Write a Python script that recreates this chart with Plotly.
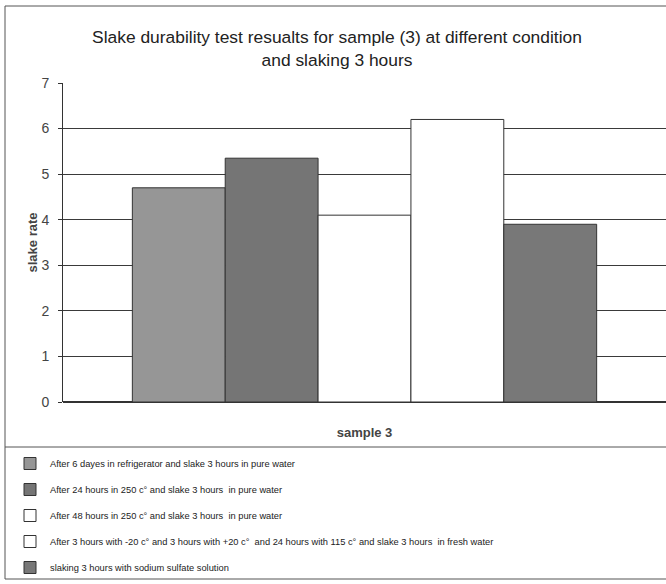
import plotly.graph_objects as go

categories = ["sample 3"]
series_names = [
    "After 6 dayes in refrigerator and slake 3 hours in pure water",
    "After 24 hours in 250 c° and slake 3 hours  in pure water",
    "After 48 hours in 250 c° and slake 3 hours  in pure water",
    "After 3 hours with -20 c° and 3 hours with +20 c°  and 24 hours with 115 c° and slake 3 hours  in fresh water",
    "slaking 3 hours with sodium sulfate solution",
]
slake_rate = [4.7, 5.35, 4.1, 6.2, 3.9]

bar_colors = ["#969696", "#757575", "#ffffff", "#ffffff", "#787878"]
FONT = "Liberation Sans, Arial"
W, H = 666, 584
L, R, T, B = 63, 0, 83, 182

fig = go.Figure()
for i, (name, val) in enumerate(zip(series_names, slake_rate)):
    fig.add_trace(go.Bar(
        x=categories, y=[val], name=name, legendgroup=f"g{i}",
        marker=dict(color=bar_colors[i], line=dict(color="#333333", width=1)),
    ))

def px_x(p):
    return (p - L) / (W - L - R)

def px_y(p):
    return (H - B - p) / (H - T - B)

fig.update_layout(
    width=W, height=H,
    margin=dict(l=L, r=R, t=T, b=B),
    paper_bgcolor="white", plot_bgcolor="white",
    barmode="group", bargap=0.23, bargroupgap=0,
    title=dict(text="Slake durability test resualts for sample (3) at different condition<br>and slaking 3 hours",
               x=337 / W, xanchor="center", y=1 - 43 / H, yanchor="top",
               font=dict(family=FONT, size=17.4, color="#222222")),
    font=dict(family=FONT, color="#333333"),
    showlegend=True,
    legend=dict(x=px_x(10), xanchor="left", y=px_y(449), yanchor="top",
                font=dict(family=FONT, size=9.3, color="#222222"),
                tracegroupgap=7, itemwidth=30, bgcolor="rgba(0,0,0,0)"),
    xaxis=dict(showticklabels=False, showline=False, ticks="",
               title=dict(text="<b>sample 3</b>", standoff=25,
                          font=dict(size=13, color="#444444"))),
    yaxis=dict(range=[0, 7], dtick=1, showgrid=True, gridcolor="#3a3a3a", gridwidth=1,
               showline=True, linecolor="#333333", linewidth=1,
               ticks="outside", ticklen=4, tickcolor="#333333",
               ticklabelstandoff=6,
               tickfont=dict(size=14, color="#444444"),
               zeroline=True, zerolinecolor="#333333",
               title=dict(text="<b>slake rate</b>", standoff=0,
                          font=dict(size=13, color="#444444"))),
    shapes=[
        dict(type="rect", xref="paper", yref="paper",
             x0=px_x(5), x1=px_x(672), y0=px_y(579), y1=px_y(6),
             line=dict(color="#555555", width=1)),
        dict(type="line", xref="paper", yref="paper",
             x0=px_x(5), x1=px_x(672), y0=px_y(447), y1=px_y(447),
             line=dict(color="#555555", width=1)),
    ],
)

# the page body has a default 8px margin; drop it so the figure sits at 0,0
fig.write_html("out.html", config={"displayModeBar": False},
               post_script="document.body.style.margin='0';")
